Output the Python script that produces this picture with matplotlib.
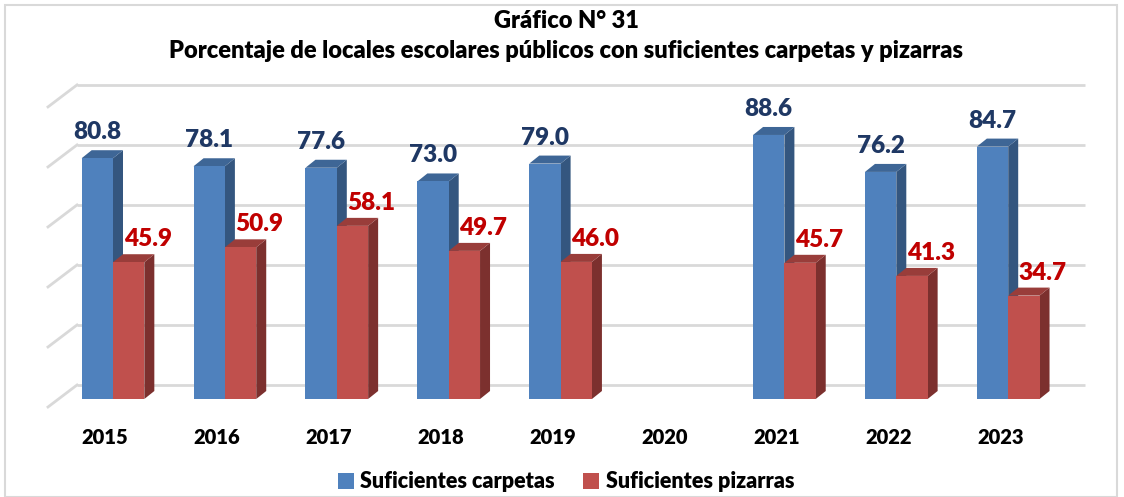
import numpy as np
import matplotlib
matplotlib.use("Agg")
import matplotlib.pyplot as plt
from matplotlib.patches import Polygon, Patch, Rectangle

plt.rcParams['font.family'] = ['Lato', 'DejaVu Sans']

years = ["2015", "2016", "2017", "2018", "2019", "2020", "2021", "2022", "2023"]
carpetas = [80.8, 78.1, 77.6, 73.0, 79.0, np.nan, 88.6, 76.2, 84.7]
pizarras = [45.9, 50.9, 58.1, 49.7, 46.0, np.nan, 45.7, 41.3, 34.7]
grid_vals = [0, 20, 40, 60, 80, 100]

title1 = "Gráfico N° 31"
title2 = "Porcentaje de locales escolares públicos con suficientes carpetas y pizarras"
series_names = ["Suficientes carpetas", "Suficientes pizarras"]

W, H = 1124, 497
fig = plt.figure(figsize=(W / 100, H / 100), dpi=100)
ax = fig.add_axes([0, 0, 1, 1])
px_x = 111.9          # pixels per category
px_y = 2.98           # pixels per value unit
x0_pix, y0_pix = 113, 497 - 399
ax.set_xlim(-x0_pix / px_x, (W - x0_pix) / px_x)
ax.set_ylim(-y0_pix / px_y, (H - y0_pix) / px_y)
ax.axis('off')

def dxp(p):
    return p / px_x

def dyp(p):
    return p / px_y

# back wall gridlines
back_dy = dyp(14)
back_scale = 1.007
xl, xr = dxp(77 - x0_pix), dxp(1085 - x0_pix)
for g in grid_vals:
    yb = back_dy + g * back_scale
    ax.plot([xl, xr], [yb, yb], color='#D9D9D9', lw=2, zorder=1, solid_capstyle='butt')
    ax.plot([xl, xl - dxp(29)], [yb, yb - dyp(22)], color='#D9D9D9', lw=2, zorder=1)

bw = 0.28
ddx, ddy = dxp(10), dyp(8)
colors = [("#4F81BD", "#3E6696", "#34567F"), ("#C0504D", "#993D3A", "#7C302E")]
label_colors = ["#1F3864", "#C00000"]

x = np.arange(len(years))
for s, (vals, offs) in enumerate([(carpetas, -bw), (pizarras, 0.0)]):
    front, top, side = colors[s]
    for i, v in enumerate(vals):
        if np.isnan(v):
            continue
        left = x[i] + offs
        right = left + bw
        z = 3 + s
        ax.add_patch(Polygon([(right, 0), (right + ddx, ddy), (right + ddx, v + ddy), (right, v)],
                             closed=True, facecolor=side, edgecolor='none', zorder=z))
        ax.add_patch(Polygon([(left, v), (left + ddx, v + ddy), (right + ddx, v + ddy), (right, v)],
                             closed=True, facecolor=top, edgecolor='none', zorder=z))
        ax.bar(left, v, width=bw, align='edge', color=front, edgecolor='none', zorder=z + 0.5)
        if s == 0:
            ax.text(left + bw / 2, v + ddy + dyp(11), f"{v:.1f}", ha='center', va='baseline',
                    fontsize=17.5, fontweight=800, color=label_colors[s], zorder=10)
        else:
            ax.text(left + bw / 2 + dxp(19), v + ddy + dyp(8), f"{v:.1f}", ha='center', va='baseline',
                    fontsize=17.5, fontweight=800, color=label_colors[s], zorder=10)

for i, yr in enumerate(years):
    ax.text(x[i] - dxp(8), dyp(-38), yr, ha='center', va='center', fontsize=14.5,
            fontweight=800, color='black')

fig.text(566 / W, 1 - 21 / H, title1, ha='center', va='center', fontsize=17,
         fontweight=800, color='black')
fig.text(566 / W, 1 - 51 / H, title2, ha='center', va='center', fontsize=17,
         fontweight=800, color='black')

handles = [Patch(facecolor=colors[0][0]), Patch(facecolor=colors[1][0])]
leg = fig.legend(handles, series_names, loc='center', bbox_to_anchor=(566 / W, 1 - 482 / H),
                 ncol=2, frameon=False, handlelength=0.75, handleheight=0.75,
                 handletextpad=0.3, columnspacing=1.3,
                 prop={'size': 15.5, 'weight': 800})

fig.patches.append(Rectangle((5 / W, 0), (W - 12) / W, 1 - 5 / H, transform=fig.transFigure,
                             fill=False, edgecolor='#D9D9D9', lw=1.5))

fig.savefig("out.png", dpi=100)
